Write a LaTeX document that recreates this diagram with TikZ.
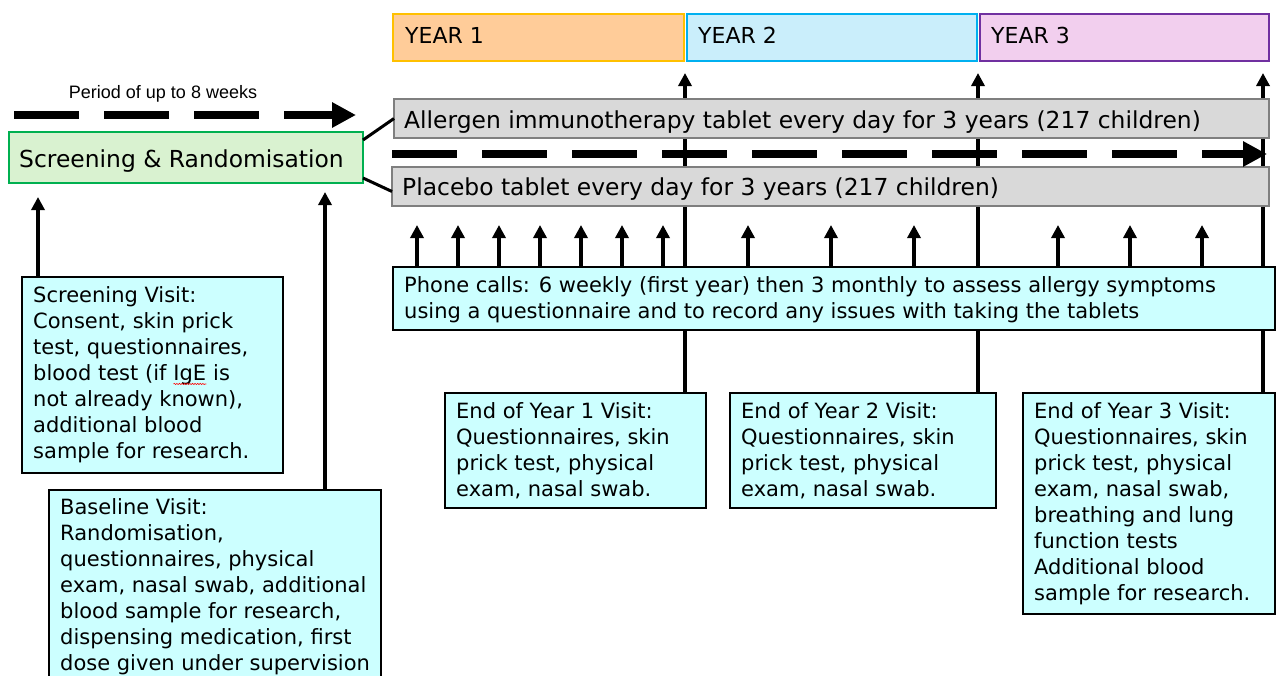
\documentclass[tikz,border=0pt]{standalone}
\usepackage{fontspec}
\setmainfont{DejaVu Sans}
\newfontfamily\lblfont{Liberation Sans}
\usetikzlibrary{arrows.meta,decorations.pathmorphing}
\definecolor{yonefill}{HTML}{FFCC99}
\definecolor{yoneline}{HTML}{FFC000}
\definecolor{ytwofill}{HTML}{CAEEFB}
\definecolor{ytwoline}{HTML}{00B0F0}
\definecolor{ythreefill}{HTML}{F2CFEE}
\definecolor{ythreeline}{HTML}{7030A0}
\definecolor{srfill}{HTML}{D9F2D0}
\definecolor{srline}{HTML}{00B050}
\definecolor{greyfill}{HTML}{D9D9D9}
\definecolor{greyline}{HTML}{7F7F7F}
\definecolor{cyanfill}{HTML}{CCFFFF}
\newcommand\spellerr[1]{\tikz[baseline=(w.base)]{\node[inner sep=0pt,outer sep=0pt,anchor=base](w){#1};\draw[red,line width=0.6pt,decorate,decoration={snake,amplitude=0.6pt,segment length=2.6pt}]([yshift=-3pt]w.base west)--([yshift=-3pt]w.base east);}}
\begin{document}
\begin{tikzpicture}[x=1pt,y=-1pt,
  box/.style={anchor=north west, inner sep=0pt, outer sep=0pt},
  yearbox/.style={box, line width=2pt, minimum height=47pt},
  greybox/.style={box, draw=greyline, fill=greyfill, line width=1.5pt, minimum height=39pt},
  visitbox/.style={box, draw=black, fill=cyanfill, line width=2pt},
  bigtxt/.style={inner sep=0pt, anchor=base west, font=\fontsize{22}{26}\selectfont},
  midtxt/.style={inner sep=0pt, anchor=base west, font=\fontsize{23.4}{26}\selectfont},
  txt/.style={inner sep=0pt, anchor=north west, align=left, font=\fontsize{21}{26}\selectfont, execute at begin node=\strut},
  yline/.style={line width=3.5pt, -{Triangle[length=13pt,width=13pt]}},
  dasharrow/.style={line width=8pt, dash pattern=on 65pt off 25pt, -{Triangle[length=24pt,width=24pt]}},
  joinline/.style={line width=3pt}
]
\useasboundingbox (0,0) rectangle (1277,675);

% year boundary lines (behind everything)
\coordinate (t1) at (685,73);
\coordinate (t2) at (978,73);
\coordinate (t3) at (1263,73);
\coordinate (e1top) at (685,393);
\coordinate (e2top) at (978,393);
\coordinate (e3top) at (1263,393);
\draw[yline] (e1top) -- (t1);
\draw[yline] (e2top) -- (t2);
\draw[yline] (e3top) -- (t3);

% year boxes
\node[yearbox, draw=yoneline, fill=yonefill, minimum width=291pt] (y1) at (393,14) {};
\node[yearbox, draw=ytwoline, fill=ytwofill, minimum width=290pt] (y2) at (687,14) {};
\node[yearbox, draw=ythreeline, fill=ythreefill, minimum width=289pt] (y3) at (980,14) {};
\node[bigtxt] (y1t) at ([xshift=12pt,yshift=-29pt]y1.north west) {YEAR 1};
\node[bigtxt] (y2t) at ([xshift=11pt,yshift=-29pt]y2.north west) {YEAR 2};
\node[bigtxt] (y3t) at ([xshift=11pt,yshift=-29pt]y3.north west) {YEAR 3};

% period label and arrow
\node[inner sep=0pt, font=\lblfont\fontsize{18}{20}\selectfont] (period) at (163,94) {Period of up to 8 weeks};
\coordinate (pa) at (14,115);
\coordinate (pb) at (356,115);
\draw[dasharrow] (pa) -- (pb);

% screening & randomisation
\node[box, draw=srline, fill=srfill, line width=1.5pt, minimum width=354pt, minimum height=51pt] (sr) at (9,132) {};
\node[inner sep=0pt, anchor=base west, font=\fontsize{23.4}{28}\selectfont] (srt) at ([xshift=10pt,yshift=-35pt]sr.north west) {Screening \& Randomisation};

% treatment arms
\node[greybox, minimum width=875pt] (alg) at (394,99) {};
\node[midtxt] (algt) at ([xshift=10pt,yshift=-29pt]alg.north west) {Allergen immunotherapy tablet every day for 3 years (217 children)};
\node[greybox, minimum width=877pt] (plc) at (392,167) {};
\node[midtxt] (plct) at ([xshift=10pt,yshift=-28pt]plc.north west) {Placebo tablet every day for 3 years (217 children)};
\draw[joinline] ([yshift=-8pt]sr.north east) -- (alg.west);
\draw[joinline] ([yshift=5pt]sr.south east) -- ([yshift=-5pt]plc.west);

% main dashed arrow
\coordinate (ma) at (392,154);
\coordinate (mb) at (1267,154);
\draw[dasharrow] (ma) -- (mb);

% phone calls
\node[visitbox, minimum width=882pt, minimum height=63pt] (phone) at (393,267) {};
\node[txt] (phonet) at ([xshift=11pt,yshift=-9.8pt]phone.north west) {Phone calls: 6 weekly (first year) then 3 monthly to assess allergy symptoms\\using a questionnaire and to record any issues with taking the tablets};
\foreach \x [count=\i] in {417,458,499,540,581,622,663,748,831,914,1058,1130,1202}{
  \coordinate (p\i) at (\x,225);
  \draw[yline] (p\i |- phone.north) -- (p\i);
}

% end of year visits
\node[visitbox, minimum width=261pt, minimum height=115pt] (e1) at (445,393) {};
\node[txt] (e1t) at ([xshift=11pt,yshift=-9.8pt]e1.north west) {End of Year 1 Visit:\\Questionnaires, skin\\prick test, physical\\exam, nasal swab.};
\node[visitbox, minimum width=266pt, minimum height=115pt] (e2) at (730,393) {};
\node[txt] (e2t) at ([xshift=11pt,yshift=-9.8pt]e2.north west) {End of Year 2 Visit:\\Questionnaires, skin\\prick test, physical\\exam, nasal swab.};
\node[visitbox, minimum width=252pt, minimum height=221pt] (e3) at (1023,393) {};
\node[txt] (e3t) at ([xshift=11pt,yshift=-9.8pt]e3.north west) {End of Year 3 Visit:\\Questionnaires, skin\\prick test, physical\\exam, nasal swab,\\breathing and lung\\function tests\\Additional blood\\sample for research.};

% screening and baseline visits
\node[visitbox, minimum width=261pt, minimum height=196pt] (sv) at (22,277) {};
\node[txt] (svt) at ([xshift=11pt,yshift=-9.8pt]sv.north west) {Screening Visit:\\Consent, skin prick\\test, questionnaires,\\blood test (if \spellerr{IgE} is\\not already known),\\additional blood\\sample for research.};
\node[visitbox, minimum width=332pt, minimum height=220pt] (bv) at (49,490) {};
\node[txt] (bvt) at ([xshift=11pt,yshift=-8.8pt]bv.north west) {Baseline Visit:\\Randomisation,\\questionnaires, physical\\exam, nasal swab, additional\\blood sample for research,\\dispensing medication, first\\dose given under supervision};
\coordinate (sva) at (38,197);
\coordinate (bva) at (325,192);
\draw[yline] (sva |- sv.north) -- (sva);
\draw[yline] (bva |- bv.north) -- (bva);
\end{tikzpicture}
\end{document}
